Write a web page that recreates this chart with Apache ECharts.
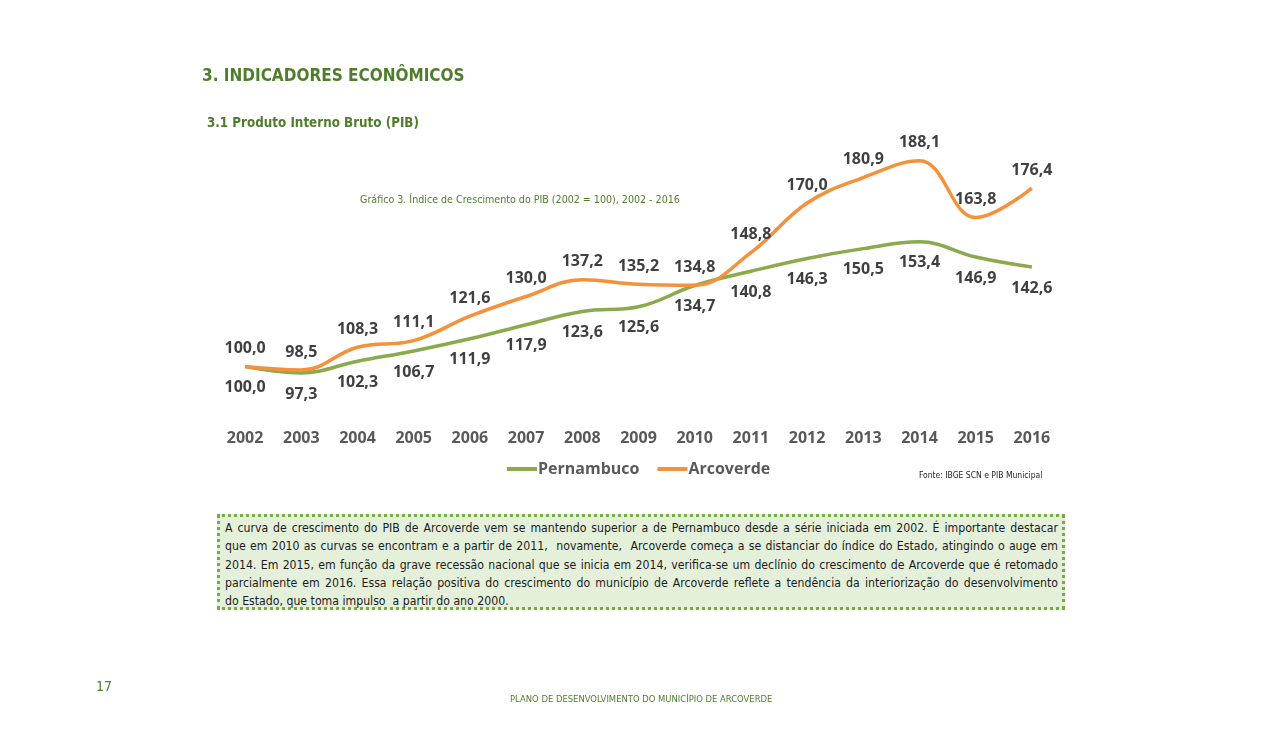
<!DOCTYPE html>
<html>
<head>
<meta charset="utf-8">
<script src="https://cdn.jsdelivr.net/npm/echarts@6/dist/echarts.min.js"></script>
<style>
  html, body { margin: 0; padding: 0; background: #fff; }
  #chart { position: absolute; left: 0; top: 0; width: 1278px; height: 737px; }
  #box {
    position: absolute; left: 217px; top: 514px; width: 833px; height: 88px;
    background: #E5F0DB; border: 3px dotted #76AB45;
    font-family: 'Liberation Sans Narrow', 'DejaVu Sans Condensed', sans-serif;
    font-size: 12.2px; line-height: 18.3px; color: #1b1b1b;
    padding: 2px 4px 0 5px; box-sizing: content-box;
  }
  #box span { display: block; text-align: justify; text-align-last: justify; white-space: nowrap; }
  #box span.last { text-align-last: left; }
</style>
</head>
<body>
<div id="chart"></div>
<div id="box">
<span>A curva de crescimento do PIB de Arcoverde vem se mantendo superior a de Pernambuco desde a série iniciada em 2002. É importante destacar</span>
<span>que em 2010 as curvas se encontram e a partir de 2011,&nbsp; novamente,&nbsp; Arcoverde começa a se distanciar do índice do Estado, atingindo o auge em</span>
<span>2014. Em 2015, em função da grave recessão nacional que se inicia em 2014, verifica-se um declínio do crescimento de Arcoverde que é retomado</span>
<span>parcialmente em 2016. Essa relação positiva do crescimento do município de Arcoverde reflete a tendência da interiorização do desenvolvimento</span>
<span class="last">do Estado, que toma impulso&nbsp; a partir do ano 2000.</span>
</div>
<script>
const years = ['2002','2003','2004','2005','2006','2007','2008','2009','2010','2011','2012','2013','2014','2015','2016'];
const pernambuco = [100.0, 97.3, 102.3, 106.7, 111.9, 117.9, 123.6, 125.6, 134.7, 140.8, 146.3, 150.5, 153.4, 146.9, 142.6];
const arcoverde = [100.0, 98.5, 108.3, 111.1, 121.6, 130.0, 137.2, 135.2, 134.8, 148.8, 170.0, 180.9, 188.1, 163.8, 176.4];

const green = '#8AAA4C';
const orange = '#F4913A';
const titleGreen = '#4F7D2C';
const narrow = "'Liberation Sans Narrow', 'DejaVu Sans Condensed', sans-serif";
const fmt = p => p.value.toFixed(1).replace('.', ',');

const chart = echarts.init(document.getElementById('chart'));
chart.setOption({
  backgroundColor: '#ffffff',
  animation: false,
  title: [
    { text: '3. INDICADORES ECONÔMICOS', left: 197, top: 63,
      textStyle: { fontFamily: narrow, fontWeight: 'bold', fontSize: 17, color: titleGreen } },
    { text: '3.1 Produto Interno Bruto (PIB)', left: 202, top: 112,
      textStyle: { fontFamily: narrow, fontWeight: 'bold', fontSize: 13.3, color: titleGreen } },
    { text: 'Gráfico 3. Índice de Crescimento do PIB (2002 = 100), 2002 - 2016', left: 355, top: 190,
      textStyle: { fontFamily: narrow, fontWeight: 'normal', fontSize: 10.6, color: titleGreen } },
    { text: 'Fonte: IBGE SCN e PIB Municipal', left: 914, top: 466,
      textStyle: { fontFamily: narrow, fontWeight: 'normal', fontSize: 8.5, color: '#222' } },
    { text: '17', left: 91, top: 675,
      textStyle: { fontFamily: narrow, fontWeight: 'normal', fontSize: 14, color: titleGreen } },
    { text: 'PLANO DE DESENVOLVIMENTO DO MUNICÍPIO DE ARCOVERDE', left: 505, top: 690,
      textStyle: { fontFamily: narrow, fontWeight: 'normal', fontSize: 9.4, color: titleGreen } }
  ],
  legend: {
    data: ['Pernambuco', 'Arcoverde'],
    left: 502, top: 456,
    itemWidth: 30, itemHeight: 4, itemGap: 18,
    icon: 'rect',
    textStyle: { fontFamily: 'Open Sans', fontWeight: 'bold', fontSize: 16, color: '#595959', padding: [0,0,0,-4] }
  },
  grid: { left: 217, right: 218, top: 133, bottom: 312 },
  xAxis: {
    type: 'category', data: years, boundaryGap: true,
    axisLine: { show: false }, axisTick: { show: false },
    axisLabel: { fontFamily: 'Open Sans', fontWeight: 'bold', fontSize: 16, color: '#595959', margin: 5 }
  },
  yAxis: {
    type: 'value', min: 75, max: 200, show: false, splitLine: { show: false }
  },
  series: [
    { name: 'Pernambuco', type: 'line', data: pernambuco, smooth: 0.4,
      symbol: 'circle', symbolSize: 0.1, showSymbol: true,
      itemStyle: { color: green }, lineStyle: { color: green, width: 3.5 },
      label: { show: true, position: 'bottom', distance: 13, formatter: fmt,
        fontFamily: 'Open Sans', fontWeight: 'bold', fontSize: 16, color: '#404040' } },
    { name: 'Arcoverde', type: 'line', data: arcoverde, smooth: 0.4,
      symbol: 'circle', symbolSize: 0.1, showSymbol: true,
      itemStyle: { color: orange }, lineStyle: { color: orange, width: 3.5 },
      label: { show: true, position: 'top', distance: 10, formatter: fmt,
        fontFamily: 'Open Sans', fontWeight: 'bold', fontSize: 16, color: '#404040' } }
  ]
});
</script>
</body>
</html>
